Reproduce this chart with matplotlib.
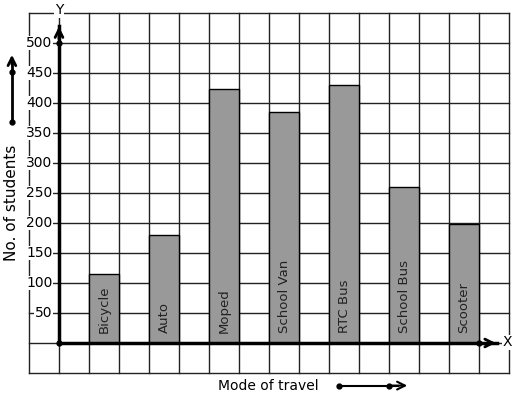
import matplotlib
matplotlib.use("Agg")
import matplotlib.pyplot as plt

# data
modes = ["Bicycle", "Auto", "Moped", "School Van", "RTC Bus", "School Bus", "Scooter"]
students = [115, 180, 423, 385, 430, 260, 198]
yticks = [50, 100, 150, 200, 250, 300, 350, 400, 450, 500]

fig = plt.figure(figsize=(5.17, 3.99), dpi=100)
ax = fig.add_axes([0, 0, 1, 1])
# 1 x unit = one grid column (30 px), 50 students = one grid row (30 px)
ax.set_xlim(-59 / 30, (517 - 59) / 30)
ax.set_ylim(-(399 - 343) / 0.6, 343 / 0.6)
ax.axis("off")

# graph paper grid
for gx in range(-1, 16):
    ax.plot([gx, gx], [-50, 550], color="#222222", lw=1.0, zorder=1)
for gy in range(-50, 551, 50):
    ax.plot([-1, 15], [gy, gy], color="#222222", lw=1.0, zorder=1)

# bars
pos = [1.5 + 2 * i for i in range(len(modes))]
ax.bar(pos, students, width=1, color="#999999", edgecolor="black", lw=1.0, zorder=3)
for p, m in zip(pos, modes):
    ax.text(p, 17, m, rotation=90, ha="center", va="bottom", fontsize=9.5,
            color="#222222", zorder=4)

# axes with arrows
ax.plot([0, 0], [0, 528], color="black", lw=2.5, zorder=5)
ax.plot([0, 14.6], [0, 0], color="black", lw=2.5, zorder=5)
ax.annotate("", xy=(0, 532), xytext=(0, 502),
            arrowprops=dict(arrowstyle="->", lw=2, color="black", mutation_scale=14), zorder=6)
ax.annotate("", xy=(14.65, 0), xytext=(14.2, 0),
            arrowprops=dict(arrowstyle="->", lw=2, color="black", mutation_scale=14), zorder=6)
ax.plot([0, 0, 14], [0, 500, 0], "o", color="black", ms=3.5, zorder=7)

ax.text(0, 555, "Y", ha="center", va="center", fontsize=10,
        bbox=dict(facecolor="white", edgecolor="none", pad=0.5), zorder=6)
ax.text(14.95, 1, "X", ha="center", va="center", fontsize=10,
        bbox=dict(facecolor="white", edgecolor="none", pad=0.5), zorder=6)

for t in yticks:
    ax.text(-0.22, t, str(t), ha="right", va="center", fontsize=10,
            bbox=dict(facecolor="white", edgecolor="none", pad=0.3), zorder=6)

# axis titles with their arrows
ax.text(-1.57, 233, "No. of students", rotation=90, ha="center", va="center", fontsize=11)
ax.plot([-1.57, -1.57], [368, 470], color="black", lw=2, zorder=5)
ax.annotate("", xy=(-1.57, 485), xytext=(-1.57, 460),
            arrowprops=dict(arrowstyle="->", lw=2, color="black", mutation_scale=14))
ax.plot([-1.57, -1.57], [368, 452], "o", color="black", ms=3.5)

ax.text(6.97, -71, "Mode of travel", ha="center", va="center", fontsize=10)
ax.plot([9.33, 11.3], [-71, -71], color="black", lw=1.5)
ax.annotate("", xy=(11.7, -71), xytext=(11.0, -71),
            arrowprops=dict(arrowstyle="->", lw=1.5, color="black", mutation_scale=14))
ax.plot([9.33, 11.0], [-71, -71], "o", color="black", ms=3.5)

fig.savefig("out.png", dpi=100, facecolor="white")
